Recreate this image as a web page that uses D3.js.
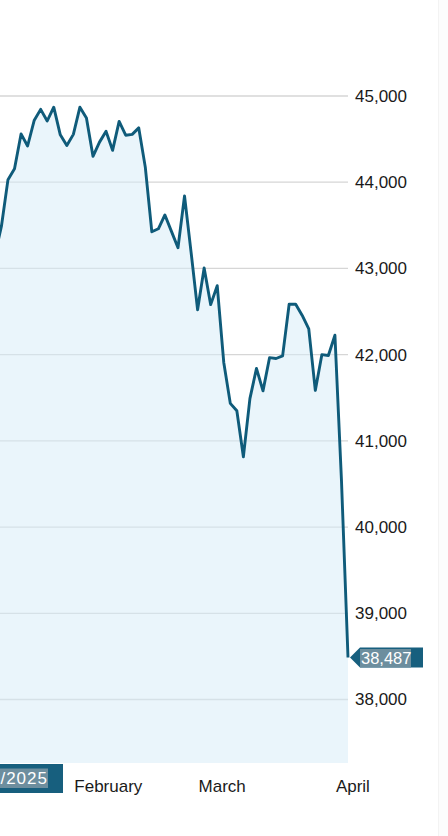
<!DOCTYPE html>
<html>
<head>
<meta charset="utf-8">
<script src="https://cdn.jsdelivr.net/npm/d3@7"></script>
<style>
  body { margin: 0; background: #fff; }
  svg { display: block; font-family: "Liberation Sans", Arial, sans-serif; }
</style>
</head>
<body>
<svg width="448" height="836"></svg>
<script>
// trading days shown (no weekend gaps on the axis)
const days = [
  "2025-01-16","2025-01-17","2025-01-21","2025-01-22","2025-01-23","2025-01-24",
  "2025-01-27","2025-01-28","2025-01-29","2025-01-30","2025-01-31",
  "2025-02-03","2025-02-04","2025-02-05","2025-02-06","2025-02-07",
  "2025-02-10","2025-02-11","2025-02-12","2025-02-13","2025-02-14",
  "2025-02-18","2025-02-19","2025-02-20","2025-02-21",
  "2025-02-24","2025-02-25","2025-02-26","2025-02-27","2025-02-28",
  "2025-03-03","2025-03-04","2025-03-05","2025-03-06","2025-03-07",
  "2025-03-10","2025-03-11","2025-03-12","2025-03-13","2025-03-14",
  "2025-03-17","2025-03-18","2025-03-19","2025-03-20","2025-03-21",
  "2025-03-24","2025-03-25","2025-03-26","2025-03-27","2025-03-28",
  "2025-03-31","2025-04-01","2025-04-02","2025-04-03","2025-04-04"
];
const closes = [
  43150, 43490, 44030, 44155, 44560, 44420,
  44715, 44845, 44710, 44870, 44550,
  44425, 44555, 44870, 44745, 44300,
  44465, 44590, 44370, 44705, 44545,
  44555, 44630, 44175, 43425,
  43460, 43620, 43430, 43240, 43840,
  43190, 42520, 43005, 42580, 42800,
  41910, 41435, 41350, 40815, 41490,
  41840, 41580, 41965, 41955, 41985,
  42585, 42585, 42455, 42300, 41585,
  42000, 41990, 42225, 40545, 38487
];
const yTicks = [38000, 39000, 40000, 41000, 42000, 43000, 44000, 45000];
const monthTickDays = ["2025-02-03", "2025-03-03", "2025-04-01"];
const monthLabels = ["February", "March", "April"];
const dateLabel = "1/16/2025";

const data = days.map((d, i) => ({day: d, value: closes[i]}));

const svg = d3.select("svg");
const plot = {left: 0, right: 348, bottom: 763};

const x = d3.scalePoint()
  .domain(days)
  .range([-5.1, plot.right]);

const y = d3.scaleLinear()
  .domain([38000, 45000])
  .range([699.5, 96]);

// faint strip on the right edge
svg.append("rect")
  .attr("x", 439).attr("y", 0).attr("width", 9).attr("height", 836)
  .attr("fill", "#fcfcfc");
svg.append("line")
  .attr("x1", 438.5).attr("x2", 438.5).attr("y1", 0).attr("y2", 836)
  .attr("stroke", "#f3f3f3");

// gridlines
svg.append("g")
  .selectAll("line")
  .data(yTicks)
  .join("line")
  .attr("x1", plot.left)
  .attr("x2", plot.right)
  .attr("y1", d => y(d))
  .attr("y2", d => y(d))
  .attr("stroke", "#d6d6d6")
  .attr("stroke-width", 1.3);

// area under the line
const area = d3.area()
  .x(d => x(d.day))
  .y0(plot.bottom)
  .y1(d => y(d.value));

svg.append("path")
  .datum(data)
  .attr("d", area)
  .attr("fill", "#d6ecf7")
  .attr("fill-opacity", 0.5);

// y axis labels on the right
const yAxis = d3.axisRight(y)
  .tickValues(yTicks)
  .tickFormat(d3.format(","))
  .tickSize(0)
  .tickPadding(0);

const gy = svg.append("g")
  .attr("transform", "translate(355,0)")
  .call(yAxis);
gy.select(".domain").remove();
gy.selectAll("text")
  .attr("font-size", 17)
  .attr("fill", "#1a1a1a")
  .attr("font-family", "Liberation Sans, Arial, sans-serif");

// the line
const line = d3.line()
  .x(d => x(d.day))
  .y(d => y(d.value));

svg.append("path")
  .datum(data)
  .attr("d", line)
  .attr("fill", "none")
  .attr("stroke", "#0f5b7a")
  .attr("stroke-width", 2.9)
  .attr("stroke-linejoin", "round");

// month labels
svg.append("g")
  .selectAll("text")
  .data(monthTickDays)
  .join("text")
  .attr("x", d => x(d) + 7.5)
  .attr("y", 792)
  .attr("font-size", 17)
  .attr("fill", "#1a1a1a")
  .text((d, i) => monthLabels[i]);

// last value marker
const last = data[data.length - 1];
const lx = x(last.day) + 2, ly = y(last.value);
const marker = svg.append("g");
marker.append("path")
  .attr("d", `M${lx},${ly} L${lx + 10},${ly - 10} L${lx + 73},${ly - 10} L${lx + 73},${ly + 10} L${lx + 10},${ly + 10} Z`)
  .attr("fill", "#175f7e");
marker.append("rect")
  .attr("x", lx + 10).attr("y", ly - 8.5)
  .attr("width", 51).attr("height", 18.5)
  .attr("fill", "#6d8e9e");
marker.append("text")
  .attr("x", lx + 11)
  .attr("y", ly + 6)
  .attr("font-size", 16.5)
  .attr("fill", "#ffffff")
  .text(d3.format(",")(last.value));

// date label box at bottom left
const dbox = svg.append("g");
dbox.append("rect")
  .attr("x", -60).attr("y", 764)
  .attr("width", 123).attr("height", 29)
  .attr("fill", "#175f7e");
dbox.append("rect")
  .attr("x", -60).attr("y", 768.5)
  .attr("width", 108).attr("height", 19.5)
  .attr("fill", "#6d8e9e");
dbox.append("text")
  .attr("x", 48)
  .attr("y", 784)
  .attr("text-anchor", "end")
  .attr("font-size", 17)
  .attr("letter-spacing", 1)
  .attr("fill", "#ffffff")
  .text(dateLabel);
</script>
</body>
</html>
